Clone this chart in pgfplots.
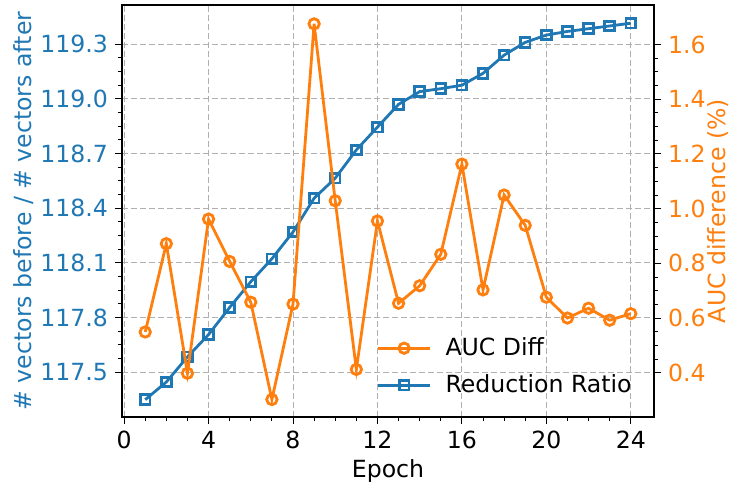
\documentclass[border=0pt]{standalone}
\usepackage{fontspec}
\setmainfont{DejaVu Sans}
\usepackage{pgfplots}
\pgfplotsset{compat=1.18}
\usetikzlibrary{calc}
\definecolor{tabblue}{HTML}{1F77B4}
\definecolor{taborange}{HTML}{FF7F0E}
\definecolor{gridgray}{HTML}{B0B0B0}
\newcommand{\chfont}{\fontsize{11.8}{14}\selectfont}
\begin{document}
\begin{tikzpicture}[font=\chfont]
\pgfplotsset{
  base/.style={
    scale only axis, width=266pt, height=206pt,
    xmin=-0.1, xmax=25.1,
    /pgf/number format/assume math mode=true,
    tick align=outside,
    major tick length=3.5pt, minor tick length=2pt,
    every tick/.style={black, line width=0.5pt},
    axis line style={line width=0.6pt},
    tick label style={font=\chfont},
    label style={font=\chfont},
  }
}
\begin{axis}[base, name=ax,
  ymin=117.255, ymax=119.515,
  xtick={0,4,8,12,16,20,24}, minor x tick num=3,
  ytick={117.5,117.8,118.1,118.4,118.7,119.0,119.3},
  yticklabels={117.5,117.8,118.1,118.4,118.7,119.0,119.3},
  minor y tick num=3,
  xtick pos=left, ytick pos=left,
  grid=major,
  major grid style={gridgray, line width=0.5pt, dash pattern=on 3pt off 1.5pt},
  xlabel={Epoch},
  xlabel shift=-1.5pt,
  ylabel={\# vectors before / \# vectors after},
  ylabel shift=-3.5pt,
  ylabel style={text=tabblue},
  yticklabel style={text=tabblue},
]
\addplot[tabblue, line width=1.4pt, mark=square, mark size=2.4pt, mark options={line width=1.4pt, solid}] coordinates {
(1,117.35) (2,117.447) (3,117.585) (4,117.707) (5,117.856) (6,117.997)
(7,118.123) (8,118.27) (9,118.455) (10,118.565) (11,118.72) (12,118.845)
(13,118.97) (14,119.04) (15,119.056) (16,119.075) (17,119.14) (18,119.24)
(19,119.31) (20,119.35) (21,119.37) (22,119.385) (23,119.40) (24,119.415)
};
\end{axis}
\begin{axis}[base,
  ymin=0.238, ymax=1.745,
  axis x line=none, axis y line*=right,
  ytick={0.4,0.6,0.8,1.0,1.2,1.4,1.6},
  yticklabels={0.4,0.6,0.8,1.0,1.2,1.4,1.6},
  minor y tick num=3,
  ylabel={AUC difference (\%)},
  ylabel shift=-6pt,
  ylabel style={text=taborange},
  yticklabel style={text=taborange},
  legend style={at={(1,0)}, anchor=south east, xshift=-6pt, yshift=6.5pt, draw=none, fill=none, font=\chfont, row sep=4pt, column sep=5pt},
  legend cell align=left,
  legend image code/.code={\draw[mark repeat=2,mark phase=2,#1] plot coordinates {(0pt,0pt) (13pt,0pt) (26pt,0pt)};},
]
\addplot[taborange, line width=1.4pt, mark=o, mark size=2.6pt, mark options={line width=1.4pt, solid}] coordinates {
(1,0.549) (2,0.872) (3,0.398) (4,0.962) (5,0.807) (6,0.658)
(7,0.302) (8,0.651) (9,1.676) (10,1.029) (11,0.412) (12,0.955)
(13,0.654) (14,0.718) (15,0.833) (16,1.163) (17,0.703) (18,1.05)
(19,0.939) (20,0.676) (21,0.60) (22,0.636) (23,0.592) (24,0.616)
};
\addlegendentry{AUC Diff}
\addlegendimage{tabblue, line width=1.4pt, mark=square, mark size=2.4pt, mark options={line width=1.4pt, solid}}
\addlegendentry{Reduction Ratio}
\end{axis}
\pgfresetboundingbox
\path[use as bounding box] ($(ax.south west)+(-61pt,-32.5pt)$) rectangle ($(ax.north east)+(39pt,2.5pt)$);
\end{tikzpicture}
\end{document}
